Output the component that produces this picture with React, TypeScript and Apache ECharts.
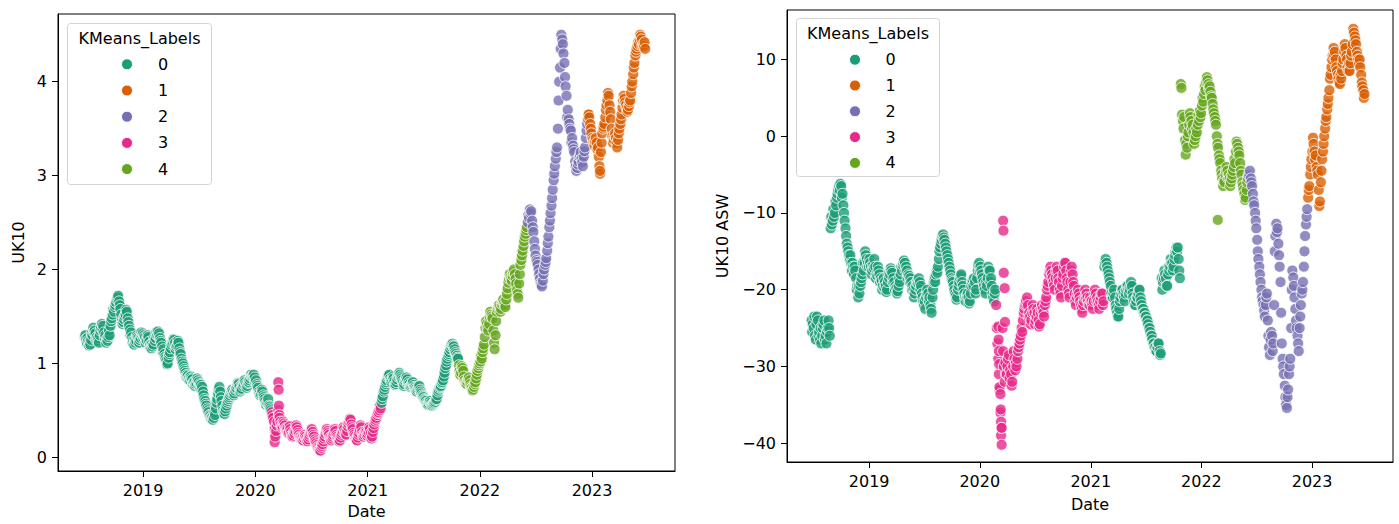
import { useEffect, useRef } from "react";
import * as echarts from "echarts";

// ---------- DATA ----------
// Weekly groups of observations [Mon, Wed, Fri]; first Friday is 2018-06-29
const START_DATE = "2018-06-29";
const DAY_MS = 86400000;
const DAY_OFFSETS = [-4, -2, 0];

const uk10_2018 = [[1.28,1.30,1.26],[1.22,1.27,1.24],[1.19,1.23,1.20],[1.25,1.32,1.30],[1.38,1.33,1.35],[1.32,1.25,1.28],[1.24,1.27,1.22],[1.30,1.35,1.38],[1.42,1.36,1.40],[1.33,1.27,1.30],[1.22,1.26,1.24],[1.28,1.35,1.30],[1.40,1.45,1.48],[1.52,1.58,1.55],[1.60,1.62,1.65],[1.68,1.70,1.72],[1.66,1.62,1.58],[1.52,1.45,1.42],[1.44,1.47,1.50],[1.52,1.57,1.55],[1.48,1.44,1.40],[1.36,1.30,1.33],[1.28,1.22,1.25],[1.20,1.25,1.22],[1.24,1.30,1.28],[1.27,1.22,1.25],[1.27,1.33,1.30]];
const uk10_2019 = [[1.32,1.27,1.30],[1.28,1.22,1.25],[1.24,1.30,1.28],[1.23,1.18,1.20],[1.16,1.21,1.18],[1.20,1.27,1.24],[1.27,1.33,1.30],[1.34,1.29,1.32],[1.27,1.24,1.22],[1.18,1.12,1.15],[1.10,1.07,1.05],[1.03,0.99,1.00],[1.06,1.10,1.12],[1.16,1.20,1.22],[1.23,1.26,1.25],[1.22,1.15,1.18],[1.19,1.24,1.22],[1.16,1.12,1.10],[1.05,1.02,1.00],[0.97,0.94,0.92],[0.90,0.86,0.88],[0.87,0.83,0.85],[0.82,0.86,0.84],[0.83,0.78,0.80],[0.80,0.76,0.78],[0.79,0.84,0.82],[0.80,0.76,0.78],[0.77,0.72,0.75],[0.70,0.66,0.62],[0.60,0.57,0.55],[0.52,0.50,0.48],[0.45,0.44,0.42],[0.41,0.43,0.40],[0.42,0.48,0.45],[0.52,0.58,0.62],[0.68,0.72,0.75],[0.70,0.64,0.60],[0.55,0.50,0.48],[0.46,0.49,0.52],[0.55,0.58,0.60],[0.62,0.64,0.66],[0.68,0.70,0.72],[0.70,0.66,0.68],[0.71,0.73,0.74],[0.76,0.79,0.78],[0.75,0.70,0.72],[0.73,0.78,0.76],[0.78,0.82,0.80],[0.78,0.74,0.76],[0.79,0.80,0.82],[0.84,0.88,0.86],[0.86,0.87,0.88]];
const uk10_2020 = [[0.85,0.80,0.82],[0.78,0.76,0.74],[0.70,0.68,0.66],[0.67,0.72,0.70],[0.66,0.64,0.62],[0.60,0.56,0.58],[0.57,0.62,0.55],[0.54,0.52,0.50],[0.48,0.45,0.42],[0.38,0.30,0.25],[0.28,0.34,0.38],[0.50,0.46,0.42],[0.38,0.35,0.32],[0.33,0.38,0.36],[0.34,0.31,0.30],[0.29,0.31,0.26],[0.27,0.33,0.30],[0.27,0.24,0.22],[0.23,0.27,0.25],[0.28,0.34,0.32],[0.29,0.26,0.24],[0.22,0.21,0.20],[0.19,0.21,0.18],[0.20,0.24,0.22],[0.20,0.18,0.17],[0.19,0.22,0.24],[0.26,0.28,0.30],[0.27,0.24,0.22],[0.19,0.17,0.15],[0.13,0.11,0.10],[0.09,0.08,0.07],[0.10,0.12,0.14],[0.17,0.20,0.22],[0.25,0.28,0.30],[0.28,0.26,0.24],[0.21,0.20,0.18],[0.20,0.22,0.24],[0.26,0.30,0.28],[0.24,0.22,0.20],[0.19,0.17,0.18],[0.21,0.24,0.26],[0.28,0.32,0.30],[0.27,0.25,0.24],[0.28,0.33,0.36],[0.38,0.41,0.40],[0.35,0.32,0.30],[0.26,0.24,0.22],[0.20,0.19,0.18],[0.21,0.24,0.26],[0.29,0.34,0.32],[0.27,0.24,0.22],[0.24,0.26,0.28]];
const uk10_2021 = [[0.27,0.23,0.25],[0.27,0.32,0.30],[0.26,0.20,0.22],[0.27,0.31,0.35],[0.38,0.40,0.42],[0.45,0.47,0.48],[0.50,0.55,0.52],[0.58,0.62,0.65],[0.70,0.72,0.75],[0.78,0.80,0.82],[0.85,0.87,0.88],[0.84,0.82,0.80],[0.82,0.86,0.84],[0.81,0.77,0.78],[0.80,0.83,0.86],[0.87,0.90,0.88],[0.86,0.84,0.82],[0.80,0.76,0.78],[0.81,0.83,0.85],[0.83,0.78,0.80],[0.78,0.75,0.76],[0.77,0.79,0.80],[0.77,0.75,0.74],[0.73,0.70,0.72],[0.73,0.75,0.76],[0.72,0.70,0.68],[0.66,0.65,0.64],[0.62,0.61,0.60],[0.58,0.57,0.56],[0.57,0.59,0.60],[0.58,0.56,0.55],[0.56,0.57,0.58],[0.59,0.61,0.62],[0.66,0.70,0.72],[0.74,0.75,0.76],[0.79,0.80,0.82],[0.86,0.90,0.95],[0.98,1.02,1.05],[1.08,1.10,1.12],[1.15,1.18,1.20],[1.21,1.19,1.18],[1.15,1.12,1.10],[1.08,1.06,1.05],[0.98,0.92,0.88],[0.90,0.97,0.95],[0.92,0.86,0.82],[0.80,0.79,0.78],[0.80,0.83,0.85],[0.82,0.78,0.75],[0.74,0.71,0.72],[0.75,0.78,0.80],[0.84,0.88,0.92],[0.95,0.98,1.00]];
const uk10_2022 = [[1.02,1.08,1.05],[1.12,1.16,1.20],[1.28,1.38,1.45],[1.42,1.38,1.35],[1.42,1.50,1.55],[1.52,1.50,1.48],[1.35,1.22,1.15],[1.30,1.45,1.55],[1.58,1.60,1.62],[1.60,1.55,1.58],[1.63,1.66,1.68],[1.65,1.62,1.60],[1.68,1.74,1.80],[1.86,1.90,1.95],[1.92,1.90,1.88],[1.93,1.97,2.00],[1.95,1.90,1.85],[1.78,1.74,1.70],[1.85,1.95,2.05],[2.10,2.15,2.20],[2.25,2.30,2.35],[2.38,2.42,2.45],[2.50,2.58,2.55],[2.64,2.60,2.62],[2.52,2.45,2.40],[2.30,2.22,2.15],[2.10,2.08,2.05],[2.00,1.95,1.90],[1.86,1.84,1.82],[1.88,1.95,2.00],[2.05,2.08,2.12],[2.20,2.28,2.35],[2.45,2.52,2.60],[2.68,2.76,2.85],[2.95,3.02,3.10],[3.18,3.25,3.30],[3.50,3.80,4.00],[4.15,4.35,4.50],[4.45,4.40,4.30],[4.20,4.05,3.95],[3.85,3.62,3.70],[3.60,3.55,3.50],[3.48,3.35,3.40],[3.32,3.28,3.25],[3.15,3.10,3.05],[3.08,3.12,3.15],[3.20,3.22,3.25],[3.18,3.14,3.10],[3.20,3.26,3.30],[3.40,3.48,3.55],[3.60,3.65,3.62],[3.55,3.50,3.45]];
const uk10_2023 = [[3.40,3.38,3.35],[3.32,3.36,3.40],[3.35,3.28,3.30],[3.20,3.10,3.02],[3.25,3.35,3.45],[3.50,3.52,3.55],[3.62,3.70,3.75],[3.80,3.88,3.85],[3.75,3.68,3.60],[3.50,3.42,3.35],[3.38,3.42,3.45],[3.40,3.35,3.30],[3.38,3.45,3.50],[3.55,3.60,3.65],[3.72,3.80,3.85],[3.82,3.78,3.75],[3.72,3.68,3.70],[3.74,3.78,3.80],[3.88,3.95,4.00],[4.08,4.15,4.20],[4.28,4.32,4.35],[4.38,4.42,4.40],[4.45,4.50,4.48],[4.45,4.38,4.40],[4.38,4.42,4.35]];

const asw_2018 = [[-24,-25.5,-24.5],[-25,-23.5,-26],[-26.5,-24.5,-23.5],[-24,-26,-25.5],[-26.5,-25,-27],[-26,-25,-24.5],[-24,-26.5,-26],[-27,-25.5,-25],[-24,-25,-26],[-12,-10.5,-11.5],[-11,-9.5,-10.5],[-10,-8.5,-9],[-8,-7.5,-7],[-6.5,-7,-6.2],[-6.5,-8,-7.5],[-9,-10,-11],[-12,-13,-14],[-14.5,-15,-15.5],[-16,-15.5,-16.5],[-17.5,-16.5,-17],[-18,-17,-17.5],[-18.5,-20,-19.5],[-21,-19.5,-20.5],[-19.5,-19,-18.5],[-18,-16.5,-17.5],[-16.5,-15,-15.5],[-16,-17,-16.5]];
const asw_2019 = [[-17,-16,-16.5],[-17,-18,-17.5],[-16.8,-17.2,-16],[-17,-18.5,-18],[-18.2,-17,-17.5],[-18,-19,-18.5],[-18.8,-20,-19.5],[-18.5,-19.8,-19],[-19.5,-20.3,-20],[-19,-18,-18.5],[-18,-17.2,-17.5],[-17.8,-19,-18.5],[-19,-20,-19.5],[-19.8,-20.5,-20.2],[-19.5,-18.5,-19],[-18,-17,-17.5],[-16.8,-16.5,-16.2],[-16.5,-17.5,-17],[-17.5,-18.5,-18],[-18.2,-19,-18.5],[-19,-20,-19.5],[-20,-21,-20.5],[-20,-19.5,-19],[-18.8,-19.2,-18.5],[-19,-20,-19.5],[-20.5,-21,-21.5],[-22,-21.5,-22.5],[-21,-20.5,-20],[-20.5,-21.5,-21],[-22,-22.5,-23],[-21,-20,-19],[-18.5,-19,-18],[-17.5,-17.8,-17],[-16,-15,-14.5],[-14,-13.5,-13],[-12.8,-13.2,-13.5],[-14,-14.5,-15],[-15.5,-16,-16.5],[-17,-17.5,-18],[-18.5,-18.8,-19],[-19.5,-20,-20.5],[-20.8,-21.3,-21],[-20,-19.5,-19],[-18.5,-18.2,-18],[-19,-19.5,-20],[-20.5,-21,-21.5],[-21,-20.8,-20.5],[-21,-21.8,-21.5],[-20.5,-19.5,-19],[-18.8,-19.5,-18.5],[-19,-20.5,-20],[-18.5,-17.5,-16.8]];
const asw_2020 = [[-16.5,-17.5,-17],[-17.5,-18,-18.5],[-19,-19.5,-20],[-20.5,-19,-19.5],[-18.5,-17,-17.5],[-17.5,-19,-18.5],[-19.5,-20.5,-21],[-21.5,-20.5,-20],[-22,-25,-27],[-29,-31,-33],[-36,-39,-38],[-25,-28,-30],[-32,-29.5,-31],[-31,-30,-29],[-28.5,-31.5,-30.5],[-31,-32.5,-32],[-30,-28,-29],[-30.5,-29.5,-30],[-29,-28,-27.5],[-27,-26.5,-26],[-25,-25.5,-24],[-23,-22.5,-22],[-21.5,-22,-21],[-22,-23.5,-23],[-23.5,-24.5,-24],[-23,-22,-22.5],[-23,-24.5,-24],[-23.5,-22.5,-23],[-24,-24.8,-24.5],[-23,-22.5,-22],[-22.5,-23,-23.5],[-22,-21.5,-21],[-20,-19.5,-19],[-18,-17.5,-17],[-17.5,-18,-18.5],[-19,-19.5,-20],[-18.5,-17.5,-17],[-17.5,-18.5,-19],[-20,-20.5,-21],[-19.5,-18.5,-18],[-17,-16.5,-16.5],[-17.5,-18.5,-19],[-20,-20.5,-21],[-19,-17.5,-17],[-18,-19,-19.5],[-20.5,-21.5,-22],[-21,-20.5,-20],[-20.5,-21,-21.5],[-22,-22.5,-23],[-22,-21.5,-21],[-20,-21,-20.5],[-21,-21.5,-22]];
const asw_2021 = [[-22,-21,-21.5],[-21.5,-22,-22.5],[-21.5,-20.5,-20],[-20.5,-21.5,-21],[-21.5,-22,-22.5],[-21.5,-21,-20.5],[-20.5,-22,-21.5],[-17,-16.5,-16],[-16.5,-17,-17.5],[-18,-18.5,-19],[-19.5,-20.5,-21],[-21,-20.5,-20],[-21,-22,-22.5],[-23,-23.5,-23.5],[-22.5,-21.5,-21],[-20.5,-20,-20],[-20.5,-21,-21.5],[-20.5,-20,-19.5],[-19.5,-20,-20.5],[-20,-19.5,-19],[-19.5,-20.5,-21],[-21.5,-22,-22],[-21.5,-21,-21],[-20.5,-20,-20],[-21,-21.5,-22],[-22.5,-22.5,-23],[-23,-23.5,-23.5],[-24,-24,-24.5],[-25,-25,-25.5],[-26,-26,-26.5],[-27,-27,-27.5],[-27.5,-28,-28],[-27.5,-27,-27],[-28,-28.5,-28.3],[-18.5,-20,-19],[-18.5,-17.5,-18],[-18.5,-19.5,-19.5],[-18,-17,-17.5],[-17,-16,-16.5],[-16.5,-17.5,-17],[-16,-15.5,-15],[-14.5,-15,-14.5],[-16,-17.5,-18.5],[6.8,6.3,2.8],[2,1,2.5],[-0.5,-2.4,-1],[-1.5,0,0.5],[1.5,3,2.5],[2,1,1.5],[0.5,-1,-0.5],[0,1,0.5],[1.5,2.8,2],[3.3,2.5,3]];
const asw_2022 = [[4,5,4.5],[5.5,6.5,6],[7,7.7,7.3],[6.8,6.2,6.5],[5.8,5.2,5],[4.2,3.5,3],[2.5,2,1.5],[0,-1,-1.5],[-2.5,-3,-3.5],[-4.5,-5,-5.5],[-6.5,-5.8,-6],[-5,-4.5,-4],[-4.5,-5.5,-5],[-5.5,-6.5,-6],[-5.5,-5,-4.5],[-4,-3,-3.5],[-2,-0.7,-1],[-1.5,-2,-2.5],[-3.5,-4.5,-5],[-6,-6.5,-7],[-7.5,-8.3,-8],[-7,-6,-5.5],[-5,-5.2,-4.5],[-5.5,-6,-6.5],[-7.5,-8.5,-9],[-10,-11,-12],[-13.5,-15,-16],[-17,-18,-19],[-20,-21,-21.5],[-22,-22.7,-23.5],[-22,-21,-20.5],[-24,-26,-27.5],[-28.5,-26.5,-25.5],[-26,-28,-27],[-22,-15,-13],[-11.4,-12.5,-12],[-14,-15.5,-17],[-19,-23,-27],[-29,-30,-31],[-32.5,-34,-35],[-35.4,-34,-33],[-31,-30,-29],[-25,-20,-17.5],[-18.4,-19.5,-21],[-22.5,-24,-25],[-26,-27,-28],[-25,-23.5,-22],[-20.5,-20,-19],[-17,-15,-13],[-11.5,-10.5,-9.5],[-8,-7,-6.5],[-5,-4,-3]];
const asw_2023 = [[-2,-0.2,-1],[-2,-3,-2.5],[-4,-4.5,-5],[-7,-9.1,-8.5],[-6,-4.5,-3],[-2,-1,0],[1,2,2.5],[3.5,4.2,5],[6,7.5,8],[9,10,10.5],[11.5,10.5,11],[10,9,8.5],[8,7.5,7],[6.8,8,7.5],[8.5,9.5,10],[11,12,11.5],[10.5,10,9],[8.5,9.5,8.5],[9.5,10.5,11],[12,14,13.5],[13,12.5,12],[11,10.5,10],[9.5,10,9],[8,7,6.5],[6,5,5.5]];

// KMeans label runs over the weekly groups: [label, number of weeks]
const labelRuns: [number, number][] = [[0, 87], [3, 51], [0, 36], [4, 32], [2, 28], [1, 27]];

// extra daily observations: [date, value, label]
const extraUK10: [string, number, number][] = [
  ["2020-03-04", 0.16, 3], ["2020-03-06", 0.22, 3], ["2020-03-16", 0.80, 3], ["2020-03-17", 0.72, 3],
  ["2020-03-18", 0.55, 3], ["2020-03-19", 0.45, 3], ["2023-01-27", 3.05, 1], ["2022-12-21", 3.65, 1],
];
const extraASW: [string, number, number][] = [
  ["2020-03-02", -24.8, 3], ["2020-03-03", -26.5, 3], ["2020-03-04", -28, 3], ["2020-03-05", -29.7, 3],
  ["2020-03-06", -32.7, 3], ["2020-03-09", -33.6, 3], ["2020-03-10", -35.6, 3], ["2020-03-11", -37.2, 3],
  ["2020-03-12", -38, 3], ["2020-03-13", -40.2, 3], ["2020-03-18", -11, 3], ["2020-03-19", -12.3, 3],
  ["2020-03-20", -17.8, 3], ["2020-03-23", -19.8, 3], ["2020-03-24", -24.2, 3], ["2022-02-24", -10.9, 4],
];

const clusterNames = ["0", "1", "2", "3", "4"];
const clusterColors = ["#1b9e77", "#d95f02", "#7570b3", "#e7298a", "#66a61e"];
const yearTicks = ["2019", "2020", "2021", "2022", "2023"];
const uk10Ticks = [0, 1, 2, 3, 4];
const aswTicks = [-40, -30, -20, -10, 0, 10];

// ---------- BUILD ----------
const uk10 = [...uk10_2018, ...uk10_2019, ...uk10_2020, ...uk10_2021, ...uk10_2022, ...uk10_2023];
const asw = [...asw_2018, ...asw_2019, ...asw_2020, ...asw_2021, ...asw_2022, ...asw_2023];
const labels: number[] = [];
labelRuns.forEach(([l, n]) => { for (let i = 0; i < n; i++) labels.push(l); });
const t0 = Date.parse(START_DATE);

function buildPoints(weeks: number[][], extra: [string, number, number][]) {
  const pts: { t: number; v: number; l: number }[] = [];
  weeks.forEach((wk, i) => {
    const fri = t0 + i * 7 * DAY_MS;
    wk.forEach((v, j) => pts.push({ t: fri + DAY_OFFSETS[j] * DAY_MS, v, l: labels[i] }));
  });
  extra.forEach(([d, v, l]) => pts.push({ t: Date.parse(d), v, l }));
  pts.sort((a, b) => a.t - b.t);
  return pts.map((p) => ({ value: [p.t, p.v], itemStyle: { color: clusterColors[p.l] } }));
}

const FONT = "DejaVu Sans";
const yearStamps = yearTicks.map((y) => Date.parse(y + "-01-01"));
const minus = (s: string) => s.replace("-", "\u2212");

function xAxis(gridIndex: number, min: number, max: number, nameGap: number) {
  return {
    type: "value", gridIndex, min, max, scale: true,
    name: "Date", nameLocation: "middle", nameGap,
    nameTextStyle: { fontFamily: FONT, fontSize: 16, color: "#000" },
    axisLine: { show: true, onZero: false, lineStyle: { color: "#000", width: 1 } },
    axisTick: { show: true, length: 6, lineStyle: { color: "#000", width: 1 }, customValues: yearStamps },
    axisLabel: {
      customValues: yearStamps, margin: 11, fontFamily: FONT, fontSize: 16, color: "#000",
      formatter: (v: number) => String(new Date(v).getUTCFullYear()),
    },
    splitLine: { show: false },
  };
}
function yAxis(gridIndex: number, min: number, max: number, ticks: number[], name: string, nameGap: number) {
  return {
    type: "value", gridIndex, min, max,
    name, nameLocation: "middle", nameGap, nameRotate: 90,
    nameTextStyle: { fontFamily: FONT, fontSize: 16, color: "#000" },
    axisLine: { show: true, onZero: false, lineStyle: { color: "#000", width: 1 } },
    axisTick: { show: true, length: 6, lineStyle: { color: "#000", width: 1 }, customValues: ticks },
    axisLabel: {
      customValues: ticks, margin: 11, fontFamily: FONT, fontSize: 16, color: "#000",
      formatter: (v: number) => minus(String(v)),
    },
    splitLine: { show: false },
  };
}

function legend(box: { x: number; y: number; w: number; h: number }, titleY: number, markerX: number, textX: number, itemY0: number, step: number) {
  const els: any[] = [
    { type: "rect", shape: { x: box.x, y: box.y, width: box.w, height: box.h, r: 3 }, style: { fill: "rgba(255,255,255,0.8)", stroke: "#d3d3d3", lineWidth: 1 }, z: 100 },
    { type: "text", x: box.x + box.w / 2, y: titleY, z: 101, style: { text: "KMeans_Labels", font: `16px "${FONT}"`, fill: "#000", align: "center", verticalAlign: "middle" } },
  ];
  clusterNames.forEach((n, i) => {
    const y = itemY0 + i * step;
    els.push({ type: "circle", shape: { cx: markerX, cy: y, r: 5.5 }, style: { fill: clusterColors[i], stroke: "#fff", lineWidth: 1 }, z: 101 });
    els.push({ type: "text", x: textX, y, z: 101, style: { text: n, font: `16px "${FONT}"`, fill: "#000", align: "center", verticalAlign: "middle" } });
  });
  return els;
}

export default function App() {
  const ref = useRef<HTMLDivElement>(null);
  useEffect(() => {
    if (!ref.current) return;
    const chart = echarts.init(ref.current, undefined, { renderer: "svg" });
    chart.setOption({
      animation: false,
      backgroundColor: "#fff",
      grid: [
        { left: 58, top: 14, width: 617, height: 460, show: true, borderColor: "#000", borderWidth: 1, backgroundColor: "transparent" },
        { left: 787, top: 10, width: 606, height: 452, show: true, borderColor: "#000", borderWidth: 1, backgroundColor: "transparent" },
      ],
      xAxis: [
        xAxis(0, Date.parse("2018-03-30"), Date.parse("2023-09-28"), 32),
        xAxis(1, Date.parse("2018-04-05"), Date.parse("2023-09-25"), 34),
      ],
      yAxis: [
        yAxis(0, -0.146, 4.721, uk10Ticks, "UK10", 32),
        yAxis(1, -42.45, 16.45, aswTicks, "UK10 ASW", 57),
      ],
      series: [
        { type: "scatter", xAxisIndex: 0, yAxisIndex: 0, symbolSize: 11, itemStyle: { borderColor: "#fff", borderWidth: 1 }, data: buildPoints(uk10, extraUK10) },
        { type: "scatter", xAxisIndex: 1, yAxisIndex: 1, symbolSize: 11, itemStyle: { borderColor: "#fff", borderWidth: 1 }, data: buildPoints(asw, extraASW) },
      ],
      graphic: [
        ...legend({ x: 67.5, y: 23.5, w: 144, h: 161 }, 38, 127, 163, 64.3, 26.2),
        ...legend({ x: 796.5, y: 18.5, w: 143, h: 158 }, 33, 855, 890.5, 59.7, 25.8),
      ],
    });
    return () => chart.dispose();
  }, []);
  return <div ref={ref} style={{ position: "fixed", left: 0, top: 0, width: 1399, height: 524, background: "#fff" }} />;
}
